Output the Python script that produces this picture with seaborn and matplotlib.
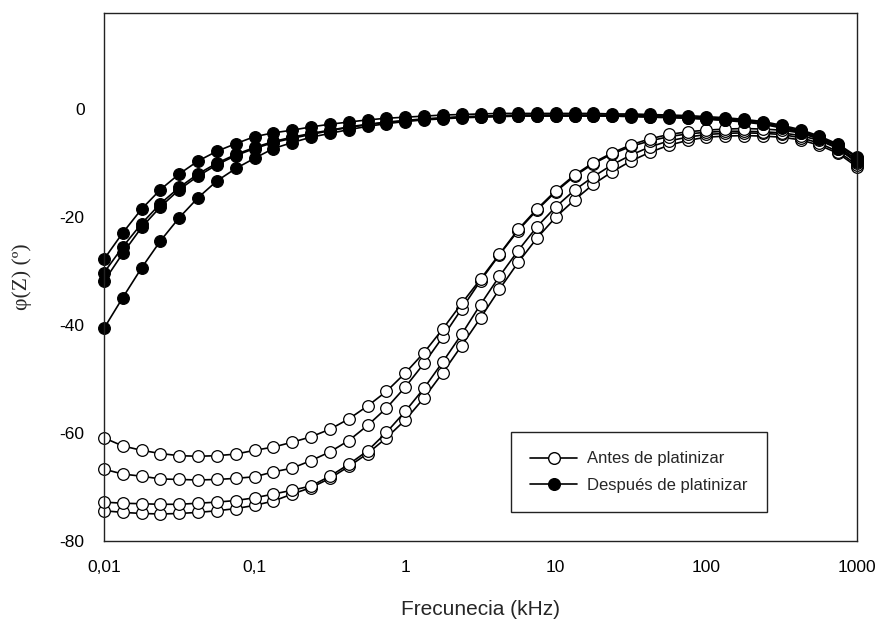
import numpy as np
import pandas as pd
import matplotlib
matplotlib.use("Agg")
import matplotlib.pyplot as plt
from matplotlib.lines import Line2D
import seaborn as sns

# frequency grid (kHz): 8 points per decade, 0.01 .. 1000
freq = np.logspace(-2, 3, 41)

antes_1 = [-60.9, -62.4, -63.2, -63.8, -64.2, -64.3, -64.2, -63.9, -63.2, -62.6,
           -61.7, -60.7, -59.3, -57.4, -55.0, -52.3, -48.9, -45.1, -40.7, -36.0,
           -31.5, -26.9, -22.3, -18.5, -15.1, -12.2, -9.9, -8.1, -6.6, -5.5,
           -4.7, -4.2, -3.9, -3.7, -3.6, -3.7, -3.9, -4.4, -5.3, -6.9, -9.5]
antes_2 = [-66.7, -67.6, -68.0, -68.5, -68.6, -68.7, -68.6, -68.4, -68.1, -67.2,
           -66.5, -65.1, -63.5, -61.4, -58.6, -55.4, -51.5, -47.1, -42.2, -37.0,
           -31.8, -27.0, -22.5, -18.7, -15.3, -12.4, -10.1, -8.3, -6.9, -5.9,
           -5.1, -4.6, -4.3, -4.1, -4.1, -4.2, -4.4, -4.9, -5.8, -7.3, -9.9]
antes_3 = [-72.8, -73.0, -73.1, -73.2, -73.2, -73.0, -72.8, -72.5, -72.0, -71.3,
           -70.6, -69.8, -68.0, -65.8, -63.3, -59.9, -56.0, -51.7, -46.8, -41.7,
           -36.2, -31.0, -26.2, -21.8, -18.1, -15.0, -12.5, -10.3, -8.5, -7.0,
           -5.9, -5.2, -4.7, -4.5, -4.4, -4.5, -4.7, -5.3, -6.3, -7.9, -10.3]
antes_4 = [-74.4, -74.7, -74.9, -75.0, -74.9, -74.7, -74.4, -74.0, -73.4, -72.6,
           -71.3, -70.1, -68.4, -66.2, -63.8, -60.9, -57.6, -53.5, -48.8, -43.8,
           -38.7, -33.4, -28.4, -23.9, -20.0, -16.8, -13.9, -11.6, -9.6, -8.0,
           -6.7, -5.8, -5.2, -5.0, -4.9, -5.0, -5.2, -5.7, -6.7, -8.2, -10.7]

despues_1 = [-27.8, -22.9, -18.5, -14.9, -12.0, -9.6, -7.8, -6.4, -5.1, -4.4,
             -3.9, -3.3, -2.8, -2.4, -2.0, -1.7, -1.5, -1.3, -1.1, -1.0,
             -0.9, -0.8, -0.8, -0.8, -0.8, -0.8, -0.8, -0.9, -0.9, -1.0,
             -1.1, -1.2, -1.4, -1.6, -1.9, -2.3, -3.0, -3.8, -5.0, -6.5, -8.8]
despues_2 = [-30.3, -25.5, -21.2, -17.5, -14.5, -12.0, -10.0, -8.4, -7.1, -6.0,
             -5.2, -4.5, -3.9, -3.3, -2.8, -2.4, -2.1, -1.8, -1.6, -1.4,
             -1.3, -1.2, -1.1, -1.1, -1.1, -1.1, -1.1, -1.1, -1.1, -1.2,
             -1.3, -1.4, -1.6, -1.8, -2.1, -2.5, -3.2, -4.0, -5.2, -6.7, -9.0]
despues_3 = [-31.9, -26.7, -21.9, -18.1, -14.9, -12.4, -10.3, -8.6, -7.3, -6.2,
             -5.4, -4.7, -4.0, -3.4, -2.9, -2.5, -2.2, -1.9, -1.7, -1.5,
             -1.4, -1.3, -1.2, -1.2, -1.2, -1.2, -1.2, -1.2, -1.3, -1.4,
             -1.5, -1.6, -1.8, -2.0, -2.3, -2.7, -3.4, -4.2, -5.4, -7.0, -9.4]
despues_4 = [-40.6, -34.9, -29.4, -24.4, -20.1, -16.4, -13.3, -11.0, -9.1, -7.3,
             -6.2, -5.2, -4.5, -3.8, -3.2, -2.7, -2.3, -2.0, -1.8, -1.6,
             -1.5, -1.4, -1.3, -1.3, -1.3, -1.3, -1.3, -1.3, -1.4, -1.5,
             -1.6, -1.7, -1.9, -2.1, -2.4, -2.8, -3.5, -4.4, -5.6, -7.3, -9.8]

xticks = [0.01, 0.1, 1, 10, 100, 1000]
xticklabels = ["0,01", "0,1", "1", "10", "100", "1000"]
yticks = [-80, -60, -40, -20, 0]
yticklabels = ["-80", "-60", "-40", "-20", "0"]
legend_labels = ["Antes de platinizar", "Después de platinizar"]

sns.set_style("white")
plt.rcParams["font.family"] = ["Liberation Sans", "DejaVu Sans"]

fig = plt.figure(figsize=(8.8, 6.25), dpi=100)
ax = fig.add_axes([104 / 880, 1 - 541 / 625, (857 - 104) / 880, (541 - 13) / 625])

style = dict(color="black", marker="o", markersize=8.4, markeredgewidth=0.9,
             markeredgecolor="black", linewidth=1.2, estimator=None, sort=False,
             legend=False, clip_on=False)

for s in [antes_4, antes_3, antes_2, antes_1]:
    sns.lineplot(x=freq, y=s, ax=ax, markerfacecolor="white", **style)
for s in [despues_4, despues_3, despues_2, despues_1]:
    sns.lineplot(x=freq, y=s, ax=ax, markerfacecolor="black", **style)

ax.set_xscale("log")
ax.set_xlim(0.01, 1000)
ax.set_ylim(-80, 17.8)
ax.set_xticks(xticks)
ax.set_xticklabels(xticklabels)
ax.minorticks_off()
ax.set_yticks(yticks)
ax.set_yticklabels(yticklabels)
ax.tick_params(axis="both", which="major", direction="out", length=6, width=1,
               color="#444444", labelsize=12.5, pad=8, labelcolor="black")
ax.tick_params(axis="both", which="minor", length=0)
for sp in ax.spines.values():
    sp.set_visible(True)
    sp.set_color("#222222")
    sp.set_linewidth(1.0)

ax.set_xlabel("Frecunecia (kHz)", fontsize=15, labelpad=18)
ax.set_ylabel("φ(Z) (º)", fontsize=15.5, labelpad=20,
              family=["Liberation Serif", "DejaVu Serif"])

handles = [
    Line2D([], [], color="black", marker="o", markersize=8.4, markerfacecolor="white",
           markeredgecolor="black", linewidth=1.2),
    Line2D([], [], color="black", marker="o", markersize=8.4, markerfacecolor="black",
           markeredgecolor="black", linewidth=1.2),
]
leg = ax.legend(handles, legend_labels, loc="lower left",
                bbox_to_anchor=(511 / 880, 1 - 512 / 625),
                bbox_transform=fig.transFigure, fontsize=12, frameon=True,
                fancybox=False, shadow=False, handlelength=2.8, handletextpad=0.6,
                borderpad=1.15, labelspacing=0.68, borderaxespad=0)
leg.get_frame().set_edgecolor("#222222")
leg.get_frame().set_linewidth(1.0)
leg.get_frame().set_alpha(1)

fig.savefig("out.png", dpi=100)
